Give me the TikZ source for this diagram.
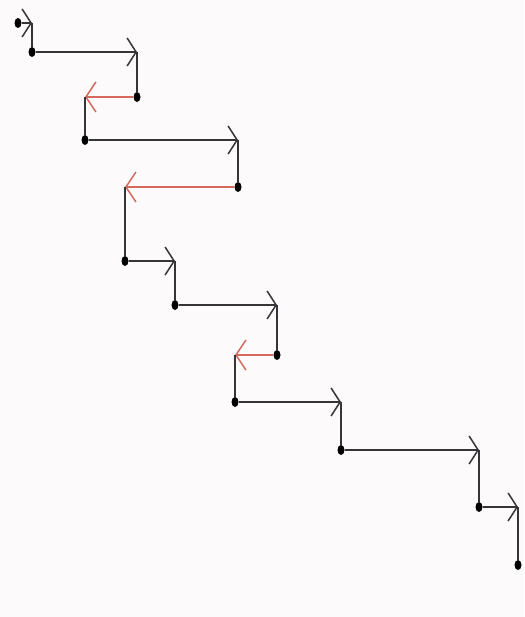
\documentclass[tikz,border=0pt]{standalone}
\usetikzlibrary{arrows.meta, shapes.geometric}
\definecolor{walkgray}{RGB}{55,52,55}
\definecolor{walkred}{RGB}{212,105,92}
\definecolor{paperpink}{RGB}{253,250,252}

\tikzset{
  walkdot/.style={ellipse, fill=black, inner sep=0pt, minimum width=7pt, minimum height=10pt},
  stepright/.style={-{Straight Barb[length=9pt, width=28pt, line width=1.5pt]}, line width=2.6pt, walkgray},
  stepleft/.style={-{Straight Barb[length=10pt, width=30pt, line width=1.5pt]}, line width=2.6pt, walkred},
  stepdown/.style={line width=2.6pt, walkgray},
}

\begin{document}
\begin{tikzpicture}[x=1pt, y=-1pt]
    \path[use as bounding box, fill=paperpink] (0,0) rectangle (524,617);

    % corners of the walk
    \node[walkdot] (d0) at (18,23) {};
    \coordinate (t0) at (32,23);
    \node[walkdot] (d1) at (32,52) {};
    \coordinate (t1) at (137,52);
    \node[walkdot] (d2) at (137,97) {};
    \coordinate (t2) at (85,97);
    \node[walkdot] (d3) at (85,140) {};
    \coordinate (t3) at (238,140);
    \node[walkdot] (d4) at (238,187) {};
    \coordinate (t4) at (125,187);
    \node[walkdot] (d5) at (125,261) {};
    \coordinate (t5) at (175,261);
    \node[walkdot] (d6) at (175,305) {};
    \coordinate (t6) at (277,305);
    \node[walkdot] (d7) at (277,355) {};
    \coordinate (t7) at (235,355);
    \node[walkdot] (d8) at (235,402) {};
    \coordinate (t8) at (341,402);
    \node[walkdot] (d9) at (341,450) {};
    \coordinate (t9) at (479,450);
    \node[walkdot] (d10) at (479,507) {};
    \coordinate (t10) at (518,507);
    \node[walkdot] (d11) at (518,565) {};

    % horizontal steps
    \draw[stepright] (d0) -- (t0);
    \draw[stepright] (d1) -- (t1);
    \draw[stepleft] (d2) -- (t2);
    \draw[stepright] (d3) -- (t3);
    \draw[stepleft] (d4) -- (t4);
    \draw[stepright] (d5) -- (t5);
    \draw[stepright] (d6) -- (t6);
    \draw[stepleft] (d7) -- (t7);
    \draw[stepright] (d8) -- (t8);
    \draw[stepright] (d9) -- (t9);
    \draw[stepright] (d10) -- (t10);

    % vertical drops
    \foreach \i/\j in {0/1, 1/2, 2/3, 3/4, 4/5, 5/6, 6/7, 7/8, 8/9, 9/10, 10/11}
        \draw[stepdown] (t\i) -- (d\j);
\end{tikzpicture}
\end{document}
